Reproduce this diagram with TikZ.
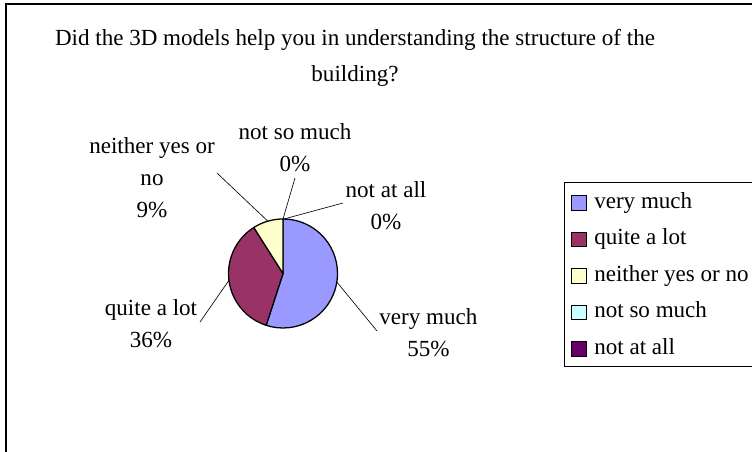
\documentclass[tikz,border=0pt]{standalone}
\usepackage{fontspec}
\setmainfont{Liberation Serif}
\usetikzlibrary{calc}

\definecolor{vmuch}{HTML}{9999FF}
\definecolor{qlot}{HTML}{993366}
\definecolor{neith}{HTML}{FFFFCC}
\definecolor{nsmuch}{HTML}{CCFFFF}
\definecolor{naall}{HTML}{660066}

\begin{document}
\begin{tikzpicture}[
  txt/.style    = {font=\fontsize{16.4}{22.8}\selectfont, align=center, inner sep=0pt},
  slice/.style  = {draw=black, line width=0.9pt, line join=round},
  lead/.style   = {draw=black, line width=0.45pt},
  key/.style    = {draw=black, line width=0.7pt, minimum size=0.37cm, inner sep=0pt},
  keytxt/.style = {font=\fontsize{16.4}{20}\selectfont, anchor=base west, inner sep=0pt},
]
\useasboundingbox (0,0) rectangle (18.8,11.3);
\clip (0,0) rectangle (18.8,11.3);

% ---- chart frame ------------------------------------------------------------
\draw[line width=1.3pt] (0.15,-0.5) -- (0.15,11.2) -- (19.5,11.2);

% ---- title ------------------------------------------------------------------
\node[txt, font=\fontsize{16.4}{25.6}\selectfont] (title) at (8.875,9.86)
  {Did the 3D models help you in understanding the structure of the\\building?};

% ---- the pie ----------------------------------------------------------------
\coordinate (c) at (7.075,4.4625);
\def\pieR{1.3625}
\draw[slice, fill=vmuch] (c) -- ++(90:\pieR)     arc[start angle=90,    end angle=-108,   radius=\pieR] -- cycle;
\draw[slice, fill=qlot]  (c) -- ++(-108:\pieR)   arc[start angle=-108,  end angle=-237.6, radius=\pieR] -- cycle;
\draw[slice, fill=neith] (c) -- ++(122.4:\pieR)  arc[start angle=122.4, end angle=90,     radius=\pieR] -- cycle;

% ---- slice labels -----------------------------------------------------------
\node[txt] (vmL) at (10.71,2.99) {very much\\55\%};
\node[txt] (qaL) at (3.775,3.2)  {quite a lot\\36\%};
\node[txt] (nyL) at (3.8,6.86)   {neither yes or\\no\\9\%};
\node[txt] (nsL) at (7.375,7.61) {not so much\\0\%};
\node[txt] (naL) at (9.65,6.15)  {not at all\\0\%};

% ---- leader lines -----------------------------------------------------------
\coordinate (vmA) at ($(c)+(-9:\pieR)$);
\coordinate (vmB) at (9.425,3.025);
\coordinate (qaA) at ($(c)+(187.2:\pieR)$);
\coordinate (qaB) at (5.0,3.25);
\coordinate (nyA) at ($(c)+(106.2:\pieR)$);
\coordinate (nyB) at (5.425,6.975);
\coordinate (nsA) at ($(c)+(90:\pieR)$);
\coordinate (nsB) at (7.375,6.85);
\coordinate (naA) at ($(c)+(89:\pieR)$);
\coordinate (naB) at (8.575,6.225);

\draw[lead] (vmA) -- (vmB);
\draw[lead] (qaA) -- (qaB);
\draw[lead] (nyA) -- (nyB);
\draw[lead] (nsA) -- (nsB);
\draw[lead] (naA) -- (naB);

% ---- legend -----------------------------------------------------------------
\draw[line width=0.7pt] (14.1,2.15) rectangle (19.5,6.725);
\foreach \k/\col/\lab [count=\i] in {vm/vmuch/very much, qa/qlot/quite a lot,
    ny/neith/neither yes or no, ns/nsmuch/not so much, na/naall/not at all} {
  \node[key, fill=\col] (\k K) at (14.475,{6.225-0.9125*(\i-1)}) {};
  \node[keytxt] (\k T) at (14.85,{6.225-0.9125*(\i-1)-0.13}) {\lab};
}

\end{tikzpicture}
\end{document}
